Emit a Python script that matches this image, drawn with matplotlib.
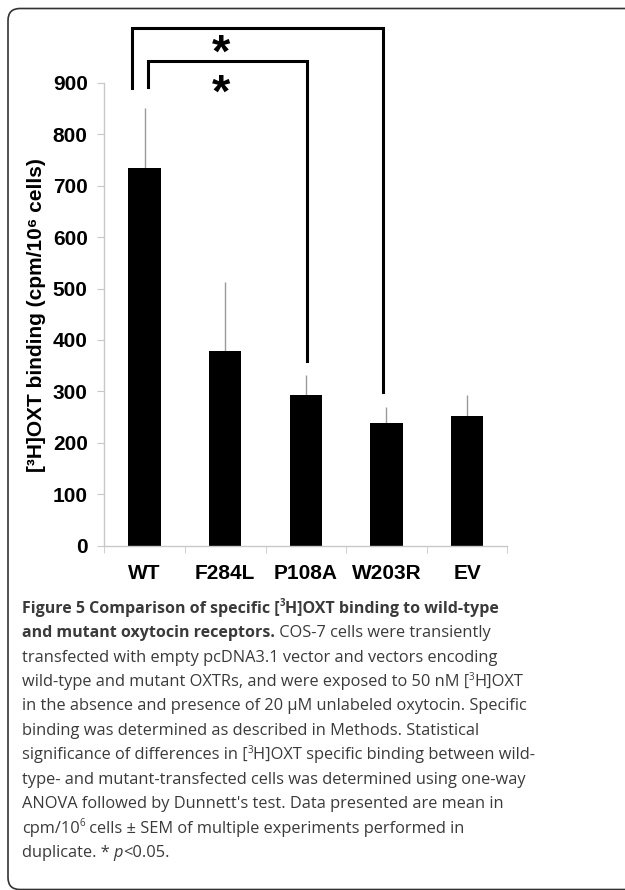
import numpy as np
import matplotlib
matplotlib.use('Agg')
import matplotlib.pyplot as plt
from matplotlib.path import Path
from matplotlib.patches import PathPatch
from matplotlib.font_manager import FontProperties
from matplotlib.textpath import TextPath

# data
groups = ['WT', 'F284L', 'P108A', 'W203R', 'EV']
means = [735, 379, 292, 239, 252]
sem_top = [852, 512, 331, 270, 293]   # top of error bar
errs = [t - m for t, m in zip(sem_top, means)]
yticks = [0, 100, 200, 300, 400, 500, 600, 700, 800, 900]

# significance brackets: (x left, x right, y left end, y top, y right end)
brackets = [(-0.155, 2.96, 891, 1008, 298),
            (0.047, 2.02, 893, 942, 360)]
star_x = 0.944
star_y = [977, 899]   # centres of the two asterisks

caption = [
    [("Figure 5 Comparison of specific [", 'b'), ("3", 'bs'), ("H]OXT binding to wild-type", 'b')],
    [("and mutant oxytocin receptors.", 'b'), (" COS-7 cells were transiently", 'r')],
    [("transfected with empty pcDNA3.1 vector and vectors encoding", 'r')],
    [("wild-type and mutant OXTRs, and were exposed to 50 nM [", 'r'), ("3", 'rs'), ("H]OXT", 'r')],
    [("in the absence and presence of 20 \u00b5M unlabeled oxytocin. Specific", 'r')],
    [("binding was determined as described in Methods. Statistical", 'r')],
    [("significance of differences in [", 'r'), ("3", 'rs'), ("H]OXT specific binding between wild-", 'r')],
    [("type- and mutant-transfected cells was determined using one-way", 'r')],
    [("ANOVA followed by Dunnett's test. Data presented are mean in", 'r')],
    [("cpm/10", 'r'), ("6", 'rs'), (" cells \u00b1 SEM of multiple experiments performed in", 'r')],
    [("duplicate. * ", 'r'), ("p", 'ri'), ("<0.05.", 'r')],
]

W, H = 625, 890
fig = plt.figure(figsize=(W / 100, H / 100), dpi=100)
renderer = fig.canvas.get_renderer()

# frame: only top and left edges, rounded corners
r = 12
x0, y0, y1 = 8.0, 8.5, 889.5
pts = [(W + 5, y0), (x0 + r, y0), (x0, y0), (x0, y0 + r), (x0, y1 - r),
       (x0, y1), (x0 + r, y1), (W + 5, y1)]
codes = [Path.MOVETO, Path.LINETO, Path.CURVE3, Path.CURVE3, Path.LINETO,
         Path.CURVE3, Path.CURVE3, Path.LINETO]
pts = [(px / W, 1 - py / H) for px, py in pts]
fig.patches.append(PathPatch(Path(pts, codes), transform=fig.transFigure,
                             fill=False, edgecolor='#333333', linewidth=1.2))

ax_l, ax_r, ax_t, ax_b = 104.3, 507.4, 83.0, 545.5
ax = fig.add_axes([ax_l / W, 1 - ax_b / H, (ax_r - ax_l) / W, (ax_b - ax_t) / H])
x = np.arange(len(groups))
ax.bar(x, means, width=0.4, color='black', zorder=2)
ax.errorbar(x, means, yerr=[np.zeros(len(errs)), errs], fmt='none',
            ecolor='#9a9a9a', elinewidth=1.0, capsize=0, zorder=1)

ax.set_xlim(-0.5, len(groups) - 0.5)
ax.set_ylim(0, 900)
ax.set_yticks(yticks)
ax.set_xticks(x)
ax.set_xticklabels(groups)
ax.set_xticks(np.arange(-0.5, len(groups)), minor=True)

for s in ['top', 'right']:
    ax.spines[s].set_visible(False)
for s in ['left', 'bottom']:
    ax.spines[s].set_color('#c8c8c8')
    ax.spines[s].set_linewidth(1.0)

bold_fp = FontProperties(family=['Liberation Sans', 'DejaVu Sans'], weight='bold', size=15)
ax.tick_params(axis='y', length=5, color='#c8c8c8', pad=7)
ax.tick_params(axis='x', which='major', length=0, pad=13)
ax.tick_params(axis='x', which='minor', length=5, color='#c8c8c8')
for t in ax.get_yticklabels() + ax.get_xticklabels():
    t.set_fontproperties(bold_fp)

fig.text(37 / W, 1 - 315 / H, "[\u00b3H]OXT binding (cpm/10\u2076 cells)",
         rotation=90, ha='center', va='center', rotation_mode='anchor',
         fontproperties=bold_fp)

for xl, xr, yl, yt, yr in brackets:
    ax.plot([xl, xl, xr, xr], [yl, yt, yt, yr], color='black', lw=2.2,
            clip_on=False, solid_joinstyle='miter', zorder=3)

# both asterisks in one text block, placed by their ink centres
star_fp = FontProperties(family=['Liberation Sans', 'DejaVu Sans'], weight='bold', size=10)
ext = TextPath((0, 0), '*', size=1, prop=star_fp).get_extents()
ink_h_px = 17.5
size_px = ink_h_px / ext.height
star_fp.set_size(size_px * 72 / 100)
ppu = (ax_b - ax_t) / 900.0          # pixels per data unit
gap_px = (star_y[0] - star_y[1]) * ppu
_, lp_h, lp_d = renderer.get_text_width_height_descent('lp', star_fp, ismath=False)
centre_em = (ext.y0 + ext.y1) / 2
line_sp = (gap_px - lp_d) / (lp_h - lp_d)
top_base = star_y[0] - centre_em * size_px / ppu
top_val = top_base + (lp_h - lp_d) / ppu
ax.text(star_x, top_val, '*\n*', ha='center', va='top', ma='center',
        linespacing=line_sp, clip_on=False, fontproperties=star_fp)

# caption
sizes = {'r': 11.8, 'b': 11.55}
cap_color = '#3a3a3a'
base0, step = 612.7, 24.43
for k, segs in enumerate(caption):
    xp = 21.7
    yb = base0 + k * step
    for txt, st in segs:
        size = sizes[st[0]]
        yy = yb
        if 's' in st:
            yy = yb - size * 0.55
            size = size * 0.6
        t = fig.text(xp / W, 1 - yy / H, txt, ha='left', va='baseline',
                     family=['Open Sans', 'DejaVu Sans'], size=size,
                     weight='bold' if 'b' in st else 'normal',
                     style='italic' if 'i' in st else 'normal',
                     color=cap_color)
        bb = t.get_window_extent(renderer)
        xp += bb.width

fig.savefig('out.png', dpi=100)
